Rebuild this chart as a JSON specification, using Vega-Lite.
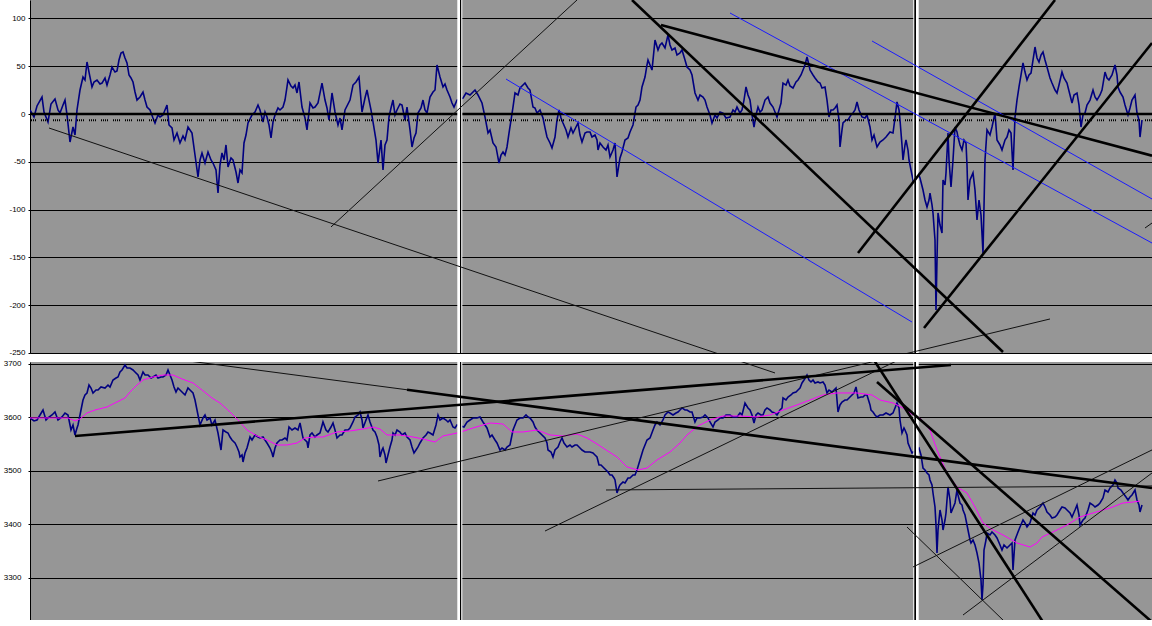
{
"$schema":"https://vega.github.io/schema/vega-lite/v6.json",
"padding":{"left":0,"top":0,"right":0,"bottom":0},
"background":"white",
"spacing":9,
"bounds":"flush",
"config":{"view":{"stroke":null,"fill":"#969696"},"axis":{"labelFont":"Liberation Sans","labelFontSize":8,"labelColor":"black","domainColor":"black","tickColor":"black","gridColor":"black","gridWidth":1,"gridOpacity":1,"tickSize":2,"domainWidth":1}},
"datasets":{
"top":[{"t":0,"v":4.2},{"t":4,"v":-3.1},{"t":7,"v":8.4},{"t":12,"v":17.8},{"t":14,"v":2.1},{"t":18,"v":-8.4},{"t":21,"v":10.5},{"t":25,"v":15.7},{"t":28,"v":4.2},{"t":30,"v":1.0},{"t":33,"v":9.4},{"t":35,"v":14.6},{"t":37,"v":-1.0},{"t":40,"v":-29.3},{"t":43,"v":-13.6},{"t":45,"v":-22.0},{"t":47,"v":4.2},{"t":50,"v":25.1},{"t":53,"v":38.7},{"t":55,"v":35.6},{"t":57,"v":54.4},{"t":59,"v":43.9},{"t":62,"v":28.3},{"t":64,"v":33.5},{"t":67,"v":35.6},{"t":70,"v":31.4},{"t":72,"v":32.4},{"t":75,"v":37.7},{"t":77,"v":30.3},{"t":80,"v":40.8},{"t":82,"v":49.2},{"t":85,"v":43.9},{"t":87,"v":45.0},{"t":89,"v":56.5},{"t":91,"v":63.8},{"t":93,"v":64.9},{"t":95,"v":58.6},{"t":97,"v":53.4},{"t":99,"v":40.8},{"t":101,"v":37.7},{"t":103,"v":33.5},{"t":105,"v":23.0},{"t":107,"v":14.6},{"t":110,"v":17.8},{"t":113,"v":23.0},{"t":115,"v":14.6},{"t":117,"v":7.3},{"t":120,"v":4.2},{"t":123,"v":-4.2},{"t":125,"v":-9.4},{"t":128,"v":-1.0},{"t":130,"v":-3.1},{"t":133,"v":-1.0},{"t":137,"v":9.4},{"t":139,"v":-11.5},{"t":142,"v":-14.6},{"t":144,"v":-27.2},{"t":147,"v":-19.9},{"t":150,"v":-30.3},{"t":153,"v":-23.0},{"t":155,"v":-27.2},{"t":158,"v":-13.6},{"t":162,"v":-19.9},{"t":165,"v":-42.9},{"t":168,"v":-65.9},{"t":170,"v":-48.1},{"t":172,"v":-40.8},{"t":175,"v":-51.3},{"t":178,"v":-39.8},{"t":181,"v":-48.1},{"t":183,"v":-51.3},{"t":186,"v":-58.6},{"t":188,"v":-82.7},{"t":190,"v":-53.4},{"t":192,"v":-40.8},{"t":194,"v":-48.1},{"t":196,"v":-32.4},{"t":198,"v":-55.5},{"t":201,"v":-46.0},{"t":203,"v":-48.1},{"t":206,"v":-60.7},{"t":208,"v":-72.2},{"t":210,"v":-58.6},{"t":212,"v":-61.7},{"t":214,"v":-30.3},{"t":216,"v":-22.0},{"t":218,"v":-9.4},{"t":222,"v":-1.0},{"t":225,"v":2.1},{"t":228,"v":9.4},{"t":230,"v":4.2},{"t":233,"v":-8.4},{"t":235,"v":2.1},{"t":237,"v":-3.1},{"t":239,"v":-11.5},{"t":241,"v":-25.1},{"t":243,"v":-8.4},{"t":245,"v":-1.0},{"t":248,"v":6.3},{"t":250,"v":4.2},{"t":253,"v":7.3},{"t":255,"v":14.6},{"t":257,"v":28.3},{"t":258,"v":35.6},{"t":261,"v":29.3},{"t":263,"v":27.2},{"t":265,"v":30.3},{"t":267,"v":22.0},{"t":269,"v":33.5},{"t":272,"v":7.3},{"t":275,"v":-4.2},{"t":277,"v":-16.7},{"t":280,"v":11.5},{"t":283,"v":6.3},{"t":285,"v":7.3},{"t":288,"v":11.5},{"t":292,"v":32.4},{"t":295,"v":14.6},{"t":297,"v":6.3},{"t":299,"v":-6.3},{"t":302,"v":22.0},{"t":305,"v":2.1},{"t":308,"v":-11.5},{"t":310,"v":-4.2},{"t":312,"v":-16.7},{"t":315,"v":4.2},{"t":320,"v":14.6},{"t":323,"v":30.3},{"t":326,"v":33.5},{"t":329,"v":38.7},{"t":332,"v":2.1},{"t":335,"v":16.7},{"t":337,"v":25.1},{"t":339,"v":14.6},{"t":341,"v":4.2},{"t":344,"v":-14.6},{"t":346,"v":-27.2},{"t":348,"v":-51.3},{"t":351,"v":-27.2},{"t":353,"v":-58.6},{"t":355,"v":-32.4},{"t":357,"v":-27.2},{"t":359,"v":-3.1},{"t":361,"v":6.3},{"t":363,"v":14.6},{"t":365,"v":-1.0},{"t":367,"v":4.2},{"t":370,"v":10.5},{"t":372,"v":9.4},{"t":375,"v":-6.3},{"t":377,"v":7.3},{"t":380,"v":-16.7},{"t":382,"v":-34.5},{"t":384,"v":-25.1},{"t":386,"v":-19.9},{"t":388,"v":1.0},{"t":391,"v":6.3},{"t":393,"v":14.6},{"t":395,"v":4.2},{"t":397,"v":1.0},{"t":400,"v":17.8},{"t":403,"v":23.0},{"t":405,"v":25.1},{"t":407,"v":51.3},{"t":410,"v":38.7},{"t":413,"v":28.3},{"t":415,"v":31.4},{"t":417,"v":25.1},{"t":420,"v":17.8},{"t":422,"v":11.5},{"t":424,"v":7.3},{"t":427,"v":14.6},{"t":433,"v":16.7},{"t":436,"v":22.0},{"t":440,"v":19.9},{"t":445,"v":25.1},{"t":448,"v":19.9},{"t":452,"v":11.5},{"t":455,"v":-3.1},{"t":458,"v":-19.9},{"t":460,"v":-16.7},{"t":463,"v":-30.3},{"t":466,"v":-34.5},{"t":469,"v":-51.3},{"t":471,"v":-42.9},{"t":473,"v":-39.8},{"t":475,"v":-42.9},{"t":477,"v":-34.5},{"t":479,"v":-19.9},{"t":481,"v":-6.3},{"t":483,"v":7.3},{"t":485,"v":22.0},{"t":488,"v":19.9},{"t":490,"v":27.2},{"t":493,"v":30.3},{"t":495,"v":32.4},{"t":498,"v":27.2},{"t":500,"v":25.1},{"t":503,"v":7.3},{"t":505,"v":6.3},{"t":507,"v":1.0},{"t":510,"v":4.2},{"t":513,"v":-4.2},{"t":515,"v":-14.6},{"t":517,"v":-24.1},{"t":520,"v":-30.3},{"t":522,"v":-35.6},{"t":525,"v":-24.1},{"t":527,"v":-6.3},{"t":529,"v":4.2},{"t":531,"v":-4.2},{"t":533,"v":-9.4},{"t":536,"v":-16.7},{"t":538,"v":-24.1},{"t":541,"v":-14.6},{"t":543,"v":-19.9},{"t":546,"v":-13.6},{"t":548,"v":-9.4},{"t":550,"v":-22.0},{"t":552,"v":-29.3},{"t":555,"v":-19.9},{"t":557,"v":-18.8},{"t":560,"v":-18.8},{"t":562,"v":-24.1},{"t":565,"v":-22.0},{"t":567,"v":-27.2},{"t":568,"v":-37.7},{"t":570,"v":-30.3},{"t":573,"v":-34.5},{"t":576,"v":-37.7},{"t":578,"v":-32.4},{"t":580,"v":-45.0},{"t":583,"v":-37.7},{"t":585,"v":-30.3},{"t":587,"v":-65.9},{"t":590,"v":-46.0},{"t":592,"v":-39.8},{"t":595,"v":-27.2},{"t":598,"v":-25.1},{"t":600,"v":-18.8},{"t":603,"v":-11.5},{"t":606,"v":7.3},{"t":608,"v":9.4},{"t":610,"v":14.6},{"t":612,"v":28.3},{"t":615,"v":38.7},{"t":617,"v":51.3},{"t":618,"v":56.5},{"t":620,"v":51.3},{"t":622,"v":46.0},{"t":625,"v":77.4},{"t":628,"v":67.0},{"t":630,"v":72.2},{"t":632,"v":74.3},{"t":635,"v":69.1},{"t":638,"v":82.7},{"t":640,"v":72.2},{"t":642,"v":67.0},{"t":645,"v":69.1},{"t":647,"v":61.7},{"t":650,"v":63.8},{"t":652,"v":67.0},{"t":655,"v":56.5},{"t":657,"v":49.2},{"t":660,"v":46.0},{"t":662,"v":40.8},{"t":665,"v":22.0},{"t":668,"v":14.6},{"t":670,"v":19.9},{"t":673,"v":17.8},{"t":675,"v":14.6},{"t":677,"v":7.3},{"t":680,"v":-1.0},{"t":682,"v":-9.4},{"t":685,"v":-1.0},{"t":687,"v":-4.2},{"t":690,"v":2.1},{"t":693,"v":1.0},{"t":696,"v":-4.2},{"t":700,"v":-3.1},{"t":703,"v":4.2},{"t":705,"v":2.1},{"t":707,"v":7.3},{"t":710,"v":1.0},{"t":712,"v":4.2},{"t":714,"v":14.6},{"t":716,"v":28.3},{"t":718,"v":19.9},{"t":720,"v":14.6},{"t":722,"v":-1.0},{"t":724,"v":-13.6},{"t":726,"v":-1.0},{"t":728,"v":7.3},{"t":730,"v":2.1},{"t":732,"v":4.2},{"t":735,"v":14.6},{"t":738,"v":17.8},{"t":740,"v":11.5},{"t":743,"v":7.3},{"t":745,"v":2.1},{"t":747,"v":-3.1},{"t":749,"v":4.2},{"t":751,"v":11.5},{"t":753,"v":32.4},{"t":756,"v":30.3},{"t":758,"v":35.6},{"t":760,"v":29.3},{"t":763,"v":27.2},{"t":766,"v":33.5},{"t":768,"v":35.6},{"t":771,"v":40.8},{"t":773,"v":46.0},{"t":775,"v":51.3},{"t":777,"v":59.6},{"t":779,"v":51.3},{"t":780,"v":46.0},{"t":783,"v":40.8},{"t":785,"v":37.7},{"t":788,"v":33.5},{"t":790,"v":32.4},{"t":792,"v":27.2},{"t":795,"v":28.3},{"t":797,"v":14.6},{"t":799,"v":-3.1},{"t":801,"v":4.2},{"t":803,"v":4.2},{"t":805,"v":6.3},{"t":807,"v":9.4},{"t":809,"v":-6.3},{"t":810,"v":-34.5},{"t":812,"v":-16.7},{"t":813,"v":-9.4},{"t":816,"v":-6.3},{"t":818,"v":-6.3},{"t":821,"v":-1.0},{"t":823,"v":1.0},{"t":825,"v":4.2},{"t":827,"v":12.6},{"t":829,"v":4.2},{"t":832,"v":-3.1},{"t":835,"v":-4.2},{"t":837,"v":-1.0},{"t":840,"v":-13.6},{"t":842,"v":-27.2},{"t":844,"v":-22.0},{"t":847,"v":-34.5},{"t":850,"v":-29.3},{"t":853,"v":-27.2},{"t":856,"v":-24.1},{"t":860,"v":-18.8},{"t":863,"v":-19.9},{"t":865,"v":-4.2},{"t":867,"v":12.6},{"t":869,"v":4.2},{"t":870,"v":-6.3},{"t":872,"v":-32.4},{"t":873,"v":-48.1},{"t":875,"v":-32.4},{"t":876,"v":-27.2},{"t":878,"v":-37.7},{"t":879,"v":-48.1},{"t":881,"v":-58.6},{"t":883,"v":-69.1},{"t":888,"v":-61.7},{"t":890,"v":-67.0},{"t":893,"v":-79.5},{"t":895,"v":-90.0},{"t":897,"v":-97.3},{"t":899,"v":-90.0},{"t":900,"v":-82.7},{"t":902,"v":-95.2},{"t":903,"v":-103.6},{"t":905,"v":-131.8},{"t":906,"v":-205.1},{"t":907,"v":-152.8},{"t":908,"v":-103.6},{"t":910,"v":-116.2},{"t":912,"v":-124.5},{"t":913,"v":-69.1},{"t":915,"v":-74.3},{"t":916,"v":-61.7},{"t":918,"v":-19.9},{"t":919,"v":-48.1},{"t":921,"v":-76.4},{"t":923,"v":-48.1},{"t":925,"v":-13.6},{"t":927,"v":-18.8},{"t":928,"v":-24.1},{"t":930,"v":-32.4},{"t":932,"v":-37.7},{"t":934,"v":-27.2},{"t":936,"v":-30.3},{"t":937,"v":-53.4},{"t":938,"v":-90.0},{"t":940,"v":-69.1},{"t":943,"v":-61.7},{"t":945,"v":-79.5},{"t":947,"v":-110.9},{"t":949,"v":-90.0},{"t":951,"v":-105.7},{"t":953,"v":-145.4},{"t":955,"v":-48.1},{"t":957,"v":-16.7},{"t":960,"v":-22.0},{"t":962,"v":-13.6},{"t":965,"v":1.0},{"t":967,"v":-27.2},{"t":970,"v":-32.4},{"t":972,"v":-37.7},{"t":975,"v":-27.2},{"t":977,"v":-24.1},{"t":979,"v":-16.7},{"t":981,"v":-19.9},{"t":983,"v":-58.6},{"t":985,"v":-3.1},{"t":987,"v":14.6},{"t":989,"v":28.3},{"t":991,"v":40.8},{"t":993,"v":53.4},{"t":995,"v":43.9},{"t":997,"v":35.6},{"t":999,"v":40.8},{"t":1001,"v":42.9},{"t":1003,"v":56.5},{"t":1005,"v":70.1},{"t":1007,"v":58.6},{"t":1009,"v":54.4},{"t":1011,"v":61.7},{"t":1013,"v":64.9},{"t":1015,"v":56.5},{"t":1017,"v":49.2},{"t":1020,"v":37.7},{"t":1022,"v":32.4},{"t":1025,"v":25.1},{"t":1027,"v":22.0},{"t":1029,"v":30.3},{"t":1032,"v":43.9},{"t":1034,"v":37.7},{"t":1037,"v":32.4},{"t":1040,"v":19.9},{"t":1042,"v":11.5},{"t":1044,"v":19.9},{"t":1047,"v":22.0},{"t":1049,"v":9.4},{"t":1051,"v":-13.6},{"t":1053,"v":-1.0},{"t":1055,"v":1.0},{"t":1057,"v":9.4},{"t":1060,"v":14.6},{"t":1063,"v":25.1},{"t":1065,"v":17.8},{"t":1067,"v":14.6},{"t":1070,"v":19.9},{"t":1072,"v":25.1},{"t":1075,"v":43.9},{"t":1077,"v":37.7},{"t":1079,"v":35.6},{"t":1082,"v":40.8},{"t":1085,"v":51.3},{"t":1087,"v":40.8},{"t":1088,"v":28.3},{"t":1090,"v":23.0},{"t":1093,"v":17.8},{"t":1095,"v":9.4},{"t":1098,"v":-1.0},{"t":1100,"v":6.3},{"t":1102,"v":14.6},{"t":1105,"v":19.9},{"t":1107,"v":1.0},{"t":1109,"v":-6.3},{"t":1110,"v":-24.1},{"t":1112,"v":-6.3}],
"bot":[{"t":0,"v":3599.1},{"t":4,"v":3593.5},{"t":7,"v":3595.3},{"t":10,"v":3604.7},{"t":13,"v":3614.0},{"t":16,"v":3595.3},{"t":18,"v":3599.1},{"t":22,"v":3604.7},{"t":25,"v":3610.3},{"t":28,"v":3595.3},{"t":32,"v":3600.9},{"t":35,"v":3608.4},{"t":38,"v":3604.7},{"t":41,"v":3576.6},{"t":43,"v":3586.0},{"t":45,"v":3567.3},{"t":47,"v":3580.4},{"t":48,"v":3586.0},{"t":51,"v":3614.0},{"t":53,"v":3632.7},{"t":55,"v":3642.1},{"t":57,"v":3645.8},{"t":59,"v":3660.7},{"t":61,"v":3655.1},{"t":63,"v":3645.8},{"t":66,"v":3651.4},{"t":68,"v":3651.4},{"t":71,"v":3657.0},{"t":75,"v":3655.1},{"t":78,"v":3660.7},{"t":80,"v":3657.0},{"t":83,"v":3670.1},{"t":86,"v":3673.8},{"t":88,"v":3675.7},{"t":90,"v":3685.0},{"t":92,"v":3688.8},{"t":95,"v":3698.1},{"t":97,"v":3692.5},{"t":100,"v":3692.5},{"t":103,"v":3688.8},{"t":105,"v":3685.0},{"t":108,"v":3679.4},{"t":110,"v":3670.1},{"t":113,"v":3685.0},{"t":115,"v":3679.4},{"t":118,"v":3679.4},{"t":121,"v":3673.8},{"t":123,"v":3675.7},{"t":126,"v":3679.4},{"t":128,"v":3673.8},{"t":131,"v":3675.7},{"t":133,"v":3675.7},{"t":136,"v":3679.4},{"t":138,"v":3688.8},{"t":140,"v":3679.4},{"t":142,"v":3670.1},{"t":144,"v":3657.0},{"t":146,"v":3647.7},{"t":148,"v":3655.1},{"t":150,"v":3651.4},{"t":153,"v":3645.8},{"t":155,"v":3642.1},{"t":158,"v":3655.1},{"t":160,"v":3651.4},{"t":163,"v":3645.8},{"t":165,"v":3632.7},{"t":167,"v":3614.0},{"t":170,"v":3586.0},{"t":173,"v":3599.1},{"t":175,"v":3604.7},{"t":177,"v":3595.3},{"t":180,"v":3599.1},{"t":182,"v":3586.0},{"t":185,"v":3595.3},{"t":188,"v":3571.0},{"t":191,"v":3539.2},{"t":193,"v":3576.6},{"t":196,"v":3572.9},{"t":198,"v":3571.0},{"t":200,"v":3563.5},{"t":202,"v":3557.9},{"t":205,"v":3552.3},{"t":207,"v":3544.9},{"t":209,"v":3535.5},{"t":210,"v":3526.2},{"t":212,"v":3529.9},{"t":213,"v":3516.8},{"t":215,"v":3533.6},{"t":217,"v":3543.0},{"t":220,"v":3563.5},{"t":222,"v":3557.9},{"t":225,"v":3567.3},{"t":228,"v":3563.5},{"t":230,"v":3561.7},{"t":233,"v":3563.5},{"t":235,"v":3557.9},{"t":237,"v":3552.3},{"t":240,"v":3543.0},{"t":242,"v":3533.6},{"t":243,"v":3526.2},{"t":245,"v":3543.0},{"t":247,"v":3552.3},{"t":250,"v":3557.9},{"t":252,"v":3557.9},{"t":255,"v":3561.7},{"t":257,"v":3557.9},{"t":259,"v":3582.2},{"t":262,"v":3576.6},{"t":265,"v":3580.4},{"t":268,"v":3576.6},{"t":270,"v":3589.7},{"t":273,"v":3561.7},{"t":275,"v":3557.9},{"t":277,"v":3554.2},{"t":278,"v":3543.0},{"t":280,"v":3567.3},{"t":282,"v":3571.0},{"t":285,"v":3563.5},{"t":287,"v":3567.3},{"t":290,"v":3571.0},{"t":293,"v":3591.6},{"t":296,"v":3576.6},{"t":298,"v":3572.9},{"t":301,"v":3582.2},{"t":303,"v":3589.7},{"t":305,"v":3576.6},{"t":307,"v":3561.7},{"t":310,"v":3567.3},{"t":312,"v":3567.3},{"t":315,"v":3576.6},{"t":318,"v":3576.6},{"t":320,"v":3580.4},{"t":323,"v":3591.6},{"t":325,"v":3600.9},{"t":328,"v":3604.7},{"t":330,"v":3610.3},{"t":332,"v":3595.3},{"t":333,"v":3580.4},{"t":336,"v":3595.3},{"t":338,"v":3604.7},{"t":340,"v":3591.6},{"t":343,"v":3576.6},{"t":345,"v":3572.9},{"t":347,"v":3563.5},{"t":349,"v":3548.6},{"t":350,"v":3526.2},{"t":352,"v":3539.2},{"t":353,"v":3543.0},{"t":355,"v":3529.9},{"t":356,"v":3514.9},{"t":358,"v":3529.9},{"t":360,"v":3544.9},{"t":362,"v":3557.9},{"t":363,"v":3571.0},{"t":365,"v":3567.3},{"t":367,"v":3576.6},{"t":370,"v":3572.9},{"t":372,"v":3567.3},{"t":375,"v":3571.0},{"t":377,"v":3563.5},{"t":380,"v":3557.9},{"t":382,"v":3544.9},{"t":384,"v":3533.6},{"t":386,"v":3539.2},{"t":388,"v":3544.9},{"t":390,"v":3552.3},{"t":393,"v":3561.7},{"t":396,"v":3567.3},{"t":398,"v":3572.9},{"t":400,"v":3571.0},{"t":403,"v":3567.3},{"t":406,"v":3586.0},{"t":408,"v":3604.7},{"t":410,"v":3595.3},{"t":413,"v":3599.1},{"t":416,"v":3595.3},{"t":418,"v":3591.6},{"t":420,"v":3595.3},{"t":423,"v":3582.2},{"t":425,"v":3580.4},{"t":427,"v":3586.0},{"t":434,"v":3582.2},{"t":437,"v":3591.6},{"t":440,"v":3595.3},{"t":443,"v":3599.1},{"t":447,"v":3599.1},{"t":450,"v":3600.9},{"t":453,"v":3591.6},{"t":455,"v":3586.0},{"t":457,"v":3580.4},{"t":460,"v":3563.5},{"t":462,"v":3567.3},{"t":465,"v":3557.9},{"t":467,"v":3552.3},{"t":470,"v":3539.2},{"t":472,"v":3543.0},{"t":475,"v":3539.2},{"t":477,"v":3544.9},{"t":480,"v":3548.6},{"t":483,"v":3576.6},{"t":485,"v":3586.0},{"t":487,"v":3595.3},{"t":490,"v":3599.1},{"t":493,"v":3599.1},{"t":496,"v":3604.7},{"t":498,"v":3600.9},{"t":500,"v":3599.1},{"t":503,"v":3591.6},{"t":505,"v":3582.2},{"t":507,"v":3576.6},{"t":510,"v":3571.0},{"t":512,"v":3567.3},{"t":515,"v":3561.7},{"t":517,"v":3552.3},{"t":518,"v":3539.2},{"t":521,"v":3535.5},{"t":523,"v":3526.2},{"t":525,"v":3539.2},{"t":528,"v":3544.9},{"t":530,"v":3554.2},{"t":532,"v":3561.7},{"t":534,"v":3552.3},{"t":537,"v":3544.9},{"t":540,"v":3548.6},{"t":542,"v":3544.9},{"t":545,"v":3548.6},{"t":547,"v":3548.6},{"t":550,"v":3543.0},{"t":552,"v":3539.2},{"t":555,"v":3535.5},{"t":557,"v":3535.5},{"t":560,"v":3535.5},{"t":563,"v":3533.6},{"t":565,"v":3529.9},{"t":567,"v":3526.2},{"t":569,"v":3511.2},{"t":571,"v":3511.2},{"t":573,"v":3507.5},{"t":576,"v":3501.9},{"t":578,"v":3498.1},{"t":580,"v":3492.5},{"t":582,"v":3492.5},{"t":584,"v":3486.9},{"t":585,"v":3483.2},{"t":587,"v":3458.9},{"t":589,"v":3470.1},{"t":590,"v":3473.8},{"t":593,"v":3479.4},{"t":595,"v":3477.6},{"t":598,"v":3486.9},{"t":600,"v":3486.9},{"t":603,"v":3492.5},{"t":605,"v":3492.5},{"t":607,"v":3501.9},{"t":610,"v":3520.6},{"t":613,"v":3539.2},{"t":615,"v":3548.6},{"t":617,"v":3557.9},{"t":620,"v":3561.7},{"t":623,"v":3576.6},{"t":625,"v":3586.0},{"t":627,"v":3591.6},{"t":630,"v":3586.0},{"t":633,"v":3595.3},{"t":635,"v":3604.7},{"t":638,"v":3610.3},{"t":640,"v":3608.4},{"t":643,"v":3604.7},{"t":646,"v":3608.4},{"t":648,"v":3610.3},{"t":650,"v":3614.0},{"t":652,"v":3617.8},{"t":655,"v":3614.0},{"t":657,"v":3614.0},{"t":660,"v":3610.3},{"t":662,"v":3610.3},{"t":665,"v":3591.6},{"t":667,"v":3599.1},{"t":670,"v":3599.1},{"t":673,"v":3600.9},{"t":675,"v":3604.7},{"t":678,"v":3599.1},{"t":680,"v":3591.6},{"t":683,"v":3582.2},{"t":685,"v":3591.6},{"t":688,"v":3595.3},{"t":690,"v":3599.1},{"t":693,"v":3599.1},{"t":696,"v":3604.7},{"t":700,"v":3604.7},{"t":703,"v":3600.9},{"t":707,"v":3600.9},{"t":710,"v":3608.4},{"t":712,"v":3604.7},{"t":715,"v":3627.1},{"t":718,"v":3617.8},{"t":720,"v":3614.0},{"t":722,"v":3604.7},{"t":724,"v":3589.7},{"t":726,"v":3604.7},{"t":728,"v":3608.4},{"t":731,"v":3604.7},{"t":733,"v":3604.7},{"t":735,"v":3614.0},{"t":737,"v":3617.8},{"t":740,"v":3614.0},{"t":742,"v":3610.3},{"t":745,"v":3608.4},{"t":747,"v":3604.7},{"t":750,"v":3614.0},{"t":752,"v":3617.8},{"t":753,"v":3636.4},{"t":756,"v":3632.7},{"t":758,"v":3638.3},{"t":761,"v":3642.1},{"t":763,"v":3645.8},{"t":766,"v":3647.7},{"t":768,"v":3651.4},{"t":770,"v":3655.1},{"t":772,"v":3664.5},{"t":774,"v":3670.1},{"t":777,"v":3679.4},{"t":779,"v":3670.1},{"t":781,"v":3666.4},{"t":783,"v":3670.1},{"t":785,"v":3664.5},{"t":788,"v":3666.4},{"t":790,"v":3664.5},{"t":793,"v":3666.4},{"t":795,"v":3660.7},{"t":797,"v":3645.8},{"t":799,"v":3651.4},{"t":802,"v":3647.7},{"t":804,"v":3651.4},{"t":806,"v":3655.1},{"t":808,"v":3610.3},{"t":810,"v":3623.4},{"t":812,"v":3629.0},{"t":815,"v":3632.7},{"t":817,"v":3632.7},{"t":820,"v":3638.3},{"t":822,"v":3642.1},{"t":824,"v":3645.8},{"t":826,"v":3657.0},{"t":828,"v":3636.4},{"t":831,"v":3638.3},{"t":833,"v":3638.3},{"t":835,"v":3642.1},{"t":837,"v":3642.1},{"t":840,"v":3623.4},{"t":841,"v":3614.0},{"t":843,"v":3610.3},{"t":845,"v":3604.7},{"t":847,"v":3600.9},{"t":850,"v":3604.7},{"t":853,"v":3604.7},{"t":856,"v":3608.4},{"t":860,"v":3604.7},{"t":863,"v":3608.4},{"t":865,"v":3617.8},{"t":867,"v":3627.1},{"t":869,"v":3617.8},{"t":870,"v":3595.3},{"t":872,"v":3571.0},{"t":874,"v":3580.4},{"t":875,"v":3576.6},{"t":877,"v":3567.3},{"t":878,"v":3552.3},{"t":880,"v":3543.0},{"t":882,"v":3533.6},{"t":889,"v":3543.0},{"t":891,"v":3529.9},{"t":893,"v":3505.6},{"t":895,"v":3501.9},{"t":897,"v":3496.3},{"t":899,"v":3492.5},{"t":900,"v":3483.2},{"t":902,"v":3473.8},{"t":903,"v":3458.9},{"t":905,"v":3432.7},{"t":906,"v":3399.1},{"t":907,"v":3346.7},{"t":908,"v":3389.7},{"t":910,"v":3427.1},{"t":912,"v":3408.4},{"t":913,"v":3389.7},{"t":915,"v":3408.4},{"t":916,"v":3421.5},{"t":918,"v":3470.1},{"t":920,"v":3445.8},{"t":921,"v":3421.5},{"t":923,"v":3430.8},{"t":925,"v":3440.2},{"t":927,"v":3464.5},{"t":928,"v":3455.1},{"t":930,"v":3440.2},{"t":932,"v":3436.4},{"t":933,"v":3427.1},{"t":935,"v":3417.8},{"t":936,"v":3408.4},{"t":938,"v":3389.7},{"t":940,"v":3371.0},{"t":941,"v":3365.4},{"t":943,"v":3371.0},{"t":945,"v":3361.7},{"t":947,"v":3346.7},{"t":949,"v":3328.0},{"t":951,"v":3296.3},{"t":952,"v":3258.9},{"t":953,"v":3286.9},{"t":954,"v":3352.3},{"t":956,"v":3371.0},{"t":957,"v":3384.1},{"t":960,"v":3380.4},{"t":962,"v":3386.0},{"t":965,"v":3380.4},{"t":967,"v":3374.8},{"t":970,"v":3361.7},{"t":972,"v":3352.3},{"t":974,"v":3361.7},{"t":977,"v":3356.1},{"t":980,"v":3361.7},{"t":982,"v":3365.4},{"t":983,"v":3314.9},{"t":985,"v":3371.0},{"t":988,"v":3386.0},{"t":990,"v":3395.3},{"t":993,"v":3408.4},{"t":995,"v":3402.8},{"t":997,"v":3395.3},{"t":1000,"v":3402.8},{"t":1003,"v":3421.5},{"t":1005,"v":3417.8},{"t":1007,"v":3427.1},{"t":1010,"v":3432.7},{"t":1013,"v":3440.2},{"t":1015,"v":3432.7},{"t":1017,"v":3423.4},{"t":1020,"v":3417.8},{"t":1022,"v":3412.1},{"t":1025,"v":3414.0},{"t":1027,"v":3417.8},{"t":1030,"v":3427.1},{"t":1032,"v":3432.7},{"t":1035,"v":3430.8},{"t":1037,"v":3427.1},{"t":1040,"v":3421.5},{"t":1042,"v":3414.0},{"t":1045,"v":3427.1},{"t":1047,"v":3436.4},{"t":1049,"v":3417.8},{"t":1050,"v":3399.1},{"t":1053,"v":3408.4},{"t":1055,"v":3412.1},{"t":1058,"v":3427.1},{"t":1060,"v":3440.2},{"t":1063,"v":3436.4},{"t":1065,"v":3432.7},{"t":1068,"v":3436.4},{"t":1070,"v":3440.2},{"t":1073,"v":3449.5},{"t":1075,"v":3464.5},{"t":1078,"v":3460.7},{"t":1080,"v":3468.2},{"t":1083,"v":3473.8},{"t":1085,"v":3483.2},{"t":1087,"v":3477.6},{"t":1088,"v":3468.2},{"t":1091,"v":3464.5},{"t":1093,"v":3458.9},{"t":1096,"v":3451.4},{"t":1098,"v":3445.8},{"t":1100,"v":3451.4},{"t":1102,"v":3455.1},{"t":1105,"v":3464.5},{"t":1107,"v":3445.8},{"t":1109,"v":3436.4},{"t":1110,"v":3423.4},{"t":1112,"v":3436.4}],
"ma":[{"t":0,"v":3599.1},{"t":20,"v":3599.1},{"t":38,"v":3599.1},{"t":45,"v":3593.5},{"t":50,"v":3597.2},{"t":57,"v":3608.4},{"t":65,"v":3614.0},{"t":77,"v":3619.6},{"t":87,"v":3629.0},{"t":95,"v":3636.4},{"t":100,"v":3647.7},{"t":107,"v":3660.7},{"t":113,"v":3670.1},{"t":123,"v":3675.7},{"t":133,"v":3679.4},{"t":143,"v":3679.4},{"t":152,"v":3672.0},{"t":163,"v":3664.5},{"t":172,"v":3651.4},{"t":182,"v":3636.4},{"t":190,"v":3627.1},{"t":200,"v":3610.3},{"t":208,"v":3595.3},{"t":217,"v":3576.6},{"t":227,"v":3565.4},{"t":237,"v":3557.9},{"t":247,"v":3548.6},{"t":257,"v":3548.6},{"t":267,"v":3552.3},{"t":275,"v":3561.7},{"t":285,"v":3563.5},{"t":293,"v":3563.5},{"t":307,"v":3572.9},{"t":320,"v":3574.8},{"t":333,"v":3578.5},{"t":343,"v":3582.2},{"t":350,"v":3578.5},{"t":357,"v":3567.3},{"t":370,"v":3567.3},{"t":383,"v":3563.5},{"t":393,"v":3559.8},{"t":405,"v":3554.2},{"t":413,"v":3565.4},{"t":427,"v":3571.0},{"t":434,"v":3574.8},{"t":443,"v":3580.4},{"t":453,"v":3586.0},{"t":460,"v":3589.7},{"t":473,"v":3587.8},{"t":482,"v":3572.9},{"t":493,"v":3572.9},{"t":507,"v":3576.6},{"t":520,"v":3567.3},{"t":533,"v":3565.4},{"t":547,"v":3569.2},{"t":557,"v":3561.7},{"t":567,"v":3550.5},{"t":573,"v":3543.0},{"t":587,"v":3526.2},{"t":597,"v":3507.5},{"t":608,"v":3501.9},{"t":617,"v":3505.6},{"t":627,"v":3520.6},{"t":640,"v":3535.5},{"t":650,"v":3552.3},{"t":657,"v":3567.3},{"t":663,"v":3576.6},{"t":670,"v":3586.0},{"t":680,"v":3595.3},{"t":693,"v":3602.8},{"t":710,"v":3602.8},{"t":727,"v":3600.9},{"t":740,"v":3604.7},{"t":753,"v":3614.0},{"t":767,"v":3623.4},{"t":780,"v":3632.7},{"t":793,"v":3642.1},{"t":807,"v":3645.8},{"t":827,"v":3645.8},{"t":842,"v":3642.1},{"t":850,"v":3632.7},{"t":863,"v":3627.1},{"t":873,"v":3617.8},{"t":883,"v":3604.7},{"t":890,"v":3599.1},{"t":900,"v":3576.6},{"t":907,"v":3539.2},{"t":917,"v":3496.3},{"t":927,"v":3470.1},{"t":937,"v":3458.9},{"t":945,"v":3432.7},{"t":953,"v":3402.8},{"t":963,"v":3389.7},{"t":973,"v":3380.4},{"t":987,"v":3365.4},{"t":1000,"v":3357.9},{"t":1007,"v":3365.4},{"t":1012,"v":3376.6},{"t":1023,"v":3386.0},{"t":1037,"v":3399.1},{"t":1050,"v":3414.0},{"t":1063,"v":3421.5},{"t":1080,"v":3430.8},{"t":1093,"v":3440.2},{"t":1103,"v":3442.0},{"t":1110,"v":3443.9}],
"thin":[{"id":"A","t":19,"vt":-14.65,"vb":4141.1},{"id":"A","t":745,"vt":-271.0,"vb":3683.2},{"id":"B","t":301,"vt":-118.2,"vb":3956.1},{"id":"B","t":547,"vt":119.3,"vb":4380.4},{"id":"C","t":158.7,"vt":-258.5,"vb":3705.6},{"id":"C","t":377,"vt":-288.6,"vb":3651.8},{"id":"D","t":348,"vt":-384.0,"vb":3481.3},{"id":"D","t":1020,"vt":-214.5,"vb":3784.1},{"id":"E","t":515,"vt":-436.4,"vb":3387.8},{"id":"E","t":883,"vt":-250.1,"vb":3720.6},{"id":"F","t":576,"vt":-393.5,"vb":3464.5},{"id":"F","t":1122,"vt":-389.3,"vb":3472.0},{"id":"G","t":883,"vt":-474.0,"vb":3320.6},{"id":"G","t":1122,"vt":-351.6,"vb":3539.3},{"id":"H","t":933,"vt":-524.3,"vb":3230.8},{"id":"H","t":1122,"vt":-375.7,"vb":3496.3},{"id":"I","t":877,"vt":-432.2,"vb":3395.3},{"id":"I","t":975,"vt":-531.6,"vb":3217.8},{"id":"J","t":1115,"vt":-119.3,"vb":3954.2},{"id":"J","t":1122,"vt":-114.1,"vb":3963.6}],
"thick":[{"id":"K","t":602,"vt":119.3,"vb":4380.4},{"id":"K","t":973,"vt":-249.0,"vb":3722.4},{"id":"L","t":631,"vt":93.1,"vb":4333.7},{"id":"L","t":1122,"vt":-43.6,"vb":4089.4},{"id":"M","t":828,"vt":-145.5,"vb":3907.5},{"id":"M","t":1025,"vt":119.3,"vb":4380.4},{"id":"N","t":894,"vt":-223.9,"vb":3767.3},{"id":"N","t":1122,"vt":74.3,"vb":4300.0},{"id":"O","t":45,"vt":-336.9,"vb":3565.4},{"id":"O","t":921,"vt":-262.7,"vb":3698.1},{"id":"P","t":377,"vt":-288.6,"vb":3651.8},{"id":"P","t":1122,"vt":-391.4,"vb":3468.2},{"id":"Q","t":840,"vt":-251.1,"vb":3718.7},{"id":"Q","t":1013,"vt":-531.6,"vb":3217.8},{"id":"R","t":847,"vt":-280.4,"vb":3666.4},{"id":"R","t":1122,"vt":-531.6,"vb":3217.8}],
"blue":[{"id":"S","t":476,"vt":36.6,"vb":4232.7},{"id":"S","t":882,"vt":-217.7,"vb":3778.5},{"id":"U","t":700,"vt":105.7,"vb":4356.1},{"id":"U","t":1122,"vt":-135.0,"vb":3926.2},{"id":"V","t":842,"vt":76.4,"vb":4303.8},{"id":"V","t":1122,"vt":-88.9,"vb":4008.4}],
"seps":[{"x0":427.3,"x1":432.3,"kind":"gap"},{"x0":883.3,"x1":888.7,"kind":"gap"},{"x0":430.0,"x1":431.2,"kind":"edge"},{"x0":884.3,"x1":886.0,"kind":"edge"}]
},
"vconcat":[
{"width":1122,"height":353,
"layer":[
{"data":{"name":"top"},"mark":{"type":"line","color":"#000080","strokeWidth":1.6,"clip":true},
"encoding":{"x":{"field":"t","type":"quantitative","scale":{"domain":[0,1122],"nice":false,"zero":false},"axis":{"labels":false,"ticks":false,"grid":false,"minExtent":0,"maxExtent":0,"title":null}},
"y":{"field":"v","type":"quantitative","scale":{"domain":[-250.1,119.3],"nice":false,"zero":false},"axis":{"values":[100,50,0,-50,-100,-150,-200,-250],"labelExpr":"'' + datum.value","grid":true,"labelPadding":3,"minExtent":30,"maxExtent":30,"title":null}}}},
{"data":{"values":[{}]},"mark":{"type":"rect","color":"black"},"encoding":{"y":{"datum":1.2,"type":"quantitative","scale":{"domain":[-250.1,119.3],"nice":false,"zero":false},"axis":{"values":[100,50,0,-50,-100,-150,-200,-250],"labelExpr":"'' + datum.value","grid":true,"labelPadding":3,"minExtent":30,"maxExtent":30,"title":null}},"y2":{"datum":-1.2}}},
{"data":{"values":[{}]},"mark":{"type":"rule","color":"black","strokeWidth":2,"strokeDash":[1,1,1,1,1,1,1,5]},"encoding":{"y":{"datum":-6.5,"type":"quantitative","scale":{"domain":[-250.1,119.3],"nice":false,"zero":false},"axis":{"values":[100,50,0,-50,-100,-150,-200,-250],"labelExpr":"'' + datum.value","grid":true,"labelPadding":3,"minExtent":30,"maxExtent":30,"title":null}}}},
{"data":{"name":"seps"},"transform":[{"filter":"datum.kind == 'gap'"}],"mark":{"type":"rect","color":"white"},"encoding":{"x":{"field":"x0","type":"quantitative","scale":{"domain":[0,1122],"nice":false,"zero":false},"axis":{"labels":false,"ticks":false,"grid":false,"minExtent":0,"maxExtent":0,"title":null}},"x2":{"field":"x1"}}},
{"data":{"name":"seps"},"transform":[{"filter":"datum.kind == 'edge'"}],"mark":{"type":"rect","color":"black"},"encoding":{"x":{"field":"x0","type":"quantitative","scale":{"domain":[0,1122],"nice":false,"zero":false},"axis":{"labels":false,"ticks":false,"grid":false,"minExtent":0,"maxExtent":0,"title":null}},"x2":{"field":"x1"}}},
{"data":{"name":"blue"},"mark":{"type":"line","color":"#1a1aff","strokeWidth":1,"clip":true},
"encoding":{"detail":{"field":"id"},"x":{"field":"t","type":"quantitative","scale":{"domain":[0,1122],"nice":false,"zero":false},"axis":{"labels":false,"ticks":false,"grid":false,"minExtent":0,"maxExtent":0,"title":null}},
"y":{"field":"vt","type":"quantitative","scale":{"domain":[-250.1,119.3],"nice":false,"zero":false},"axis":{"values":[100,50,0,-50,-100,-150,-200,-250],"labelExpr":"'' + datum.value","grid":true,"labelPadding":3,"minExtent":30,"maxExtent":30,"title":null}}}},
{"data":{"name":"thin"},"mark":{"type":"line","color":"#111111","strokeWidth":1,"clip":true},
"encoding":{"detail":{"field":"id"},"x":{"field":"t","type":"quantitative","scale":{"domain":[0,1122],"nice":false,"zero":false},"axis":{"labels":false,"ticks":false,"grid":false,"minExtent":0,"maxExtent":0,"title":null}},
"y":{"field":"vt","type":"quantitative","scale":{"domain":[-250.1,119.3],"nice":false,"zero":false},"axis":{"values":[100,50,0,-50,-100,-150,-200,-250],"labelExpr":"'' + datum.value","grid":true,"labelPadding":3,"minExtent":30,"maxExtent":30,"title":null}}}},
{"data":{"name":"thick"},"mark":{"type":"line","color":"black","strokeWidth":2.6,"clip":true},
"encoding":{"detail":{"field":"id"},"x":{"field":"t","type":"quantitative","scale":{"domain":[0,1122],"nice":false,"zero":false},"axis":{"labels":false,"ticks":false,"grid":false,"minExtent":0,"maxExtent":0,"title":null}},
"y":{"field":"vt","type":"quantitative","scale":{"domain":[-250.1,119.3],"nice":false,"zero":false},"axis":{"values":[100,50,0,-50,-100,-150,-200,-250],"labelExpr":"'' + datum.value","grid":true,"labelPadding":3,"minExtent":30,"maxExtent":30,"title":null}}}}
]},
{"width":1122,"height":258,
"layer":[
{"data":{"name":"bot"},"mark":{"type":"line","color":"#000080","strokeWidth":1.6,"clip":true},
"encoding":{"x":{"field":"t","type":"quantitative","scale":{"domain":[0,1122],"nice":false,"zero":false},"axis":{"labels":false,"ticks":false,"grid":false,"minExtent":0,"maxExtent":0,"title":null}},
"y":{"field":"v","type":"quantitative","scale":{"domain":[3221.5,3703.7],"nice":false,"zero":false},"axis":{"values":[3700,3600,3500,3400,3300],"labelExpr":"'' + datum.value","grid":true,"labelPadding":7,"minExtent":30,"maxExtent":30,"title":null}}}},
{"data":{"name":"ma"},"mark":{"type":"line","color":"#ff00ff","strokeWidth":1,"clip":true},
"encoding":{"x":{"field":"t","type":"quantitative","scale":{"domain":[0,1122],"nice":false,"zero":false},"axis":{"labels":false,"ticks":false,"grid":false,"minExtent":0,"maxExtent":0,"title":null}},
"y":{"field":"v","type":"quantitative","scale":{"domain":[3221.5,3703.7],"nice":false,"zero":false},"axis":{"values":[3700,3600,3500,3400,3300],"labelExpr":"'' + datum.value","grid":true,"labelPadding":7,"minExtent":30,"maxExtent":30,"title":null}}}},
{"data":{"name":"seps"},"transform":[{"filter":"datum.kind == 'gap'"}],"mark":{"type":"rect","color":"white"},"encoding":{"x":{"field":"x0","type":"quantitative","scale":{"domain":[0,1122],"nice":false,"zero":false},"axis":{"labels":false,"ticks":false,"grid":false,"minExtent":0,"maxExtent":0,"title":null}},"x2":{"field":"x1"}}},
{"data":{"name":"seps"},"transform":[{"filter":"datum.kind == 'edge'"}],"mark":{"type":"rect","color":"black"},"encoding":{"x":{"field":"x0","type":"quantitative","scale":{"domain":[0,1122],"nice":false,"zero":false},"axis":{"labels":false,"ticks":false,"grid":false,"minExtent":0,"maxExtent":0,"title":null}},"x2":{"field":"x1"}}},
{"data":{"name":"blue"},"mark":{"type":"line","color":"#1a1aff","strokeWidth":1,"clip":true},
"encoding":{"detail":{"field":"id"},"x":{"field":"t","type":"quantitative","scale":{"domain":[0,1122],"nice":false,"zero":false},"axis":{"labels":false,"ticks":false,"grid":false,"minExtent":0,"maxExtent":0,"title":null}},
"y":{"field":"vb","type":"quantitative","scale":{"domain":[3221.5,3703.7],"nice":false,"zero":false},"axis":{"values":[3700,3600,3500,3400,3300],"labelExpr":"'' + datum.value","grid":true,"labelPadding":7,"minExtent":30,"maxExtent":30,"title":null}}}},
{"data":{"name":"thin"},"mark":{"type":"line","color":"#111111","strokeWidth":1,"clip":true},
"encoding":{"detail":{"field":"id"},"x":{"field":"t","type":"quantitative","scale":{"domain":[0,1122],"nice":false,"zero":false},"axis":{"labels":false,"ticks":false,"grid":false,"minExtent":0,"maxExtent":0,"title":null}},
"y":{"field":"vb","type":"quantitative","scale":{"domain":[3221.5,3703.7],"nice":false,"zero":false},"axis":{"values":[3700,3600,3500,3400,3300],"labelExpr":"'' + datum.value","grid":true,"labelPadding":7,"minExtent":30,"maxExtent":30,"title":null}}}},
{"data":{"name":"thick"},"mark":{"type":"line","color":"black","strokeWidth":2.6,"clip":true},
"encoding":{"detail":{"field":"id"},"x":{"field":"t","type":"quantitative","scale":{"domain":[0,1122],"nice":false,"zero":false},"axis":{"labels":false,"ticks":false,"grid":false,"minExtent":0,"maxExtent":0,"title":null}},
"y":{"field":"vb","type":"quantitative","scale":{"domain":[3221.5,3703.7],"nice":false,"zero":false},"axis":{"values":[3700,3600,3500,3400,3300],"labelExpr":"'' + datum.value","grid":true,"labelPadding":7,"minExtent":30,"maxExtent":30,"title":null}}}}
]}
]
}
